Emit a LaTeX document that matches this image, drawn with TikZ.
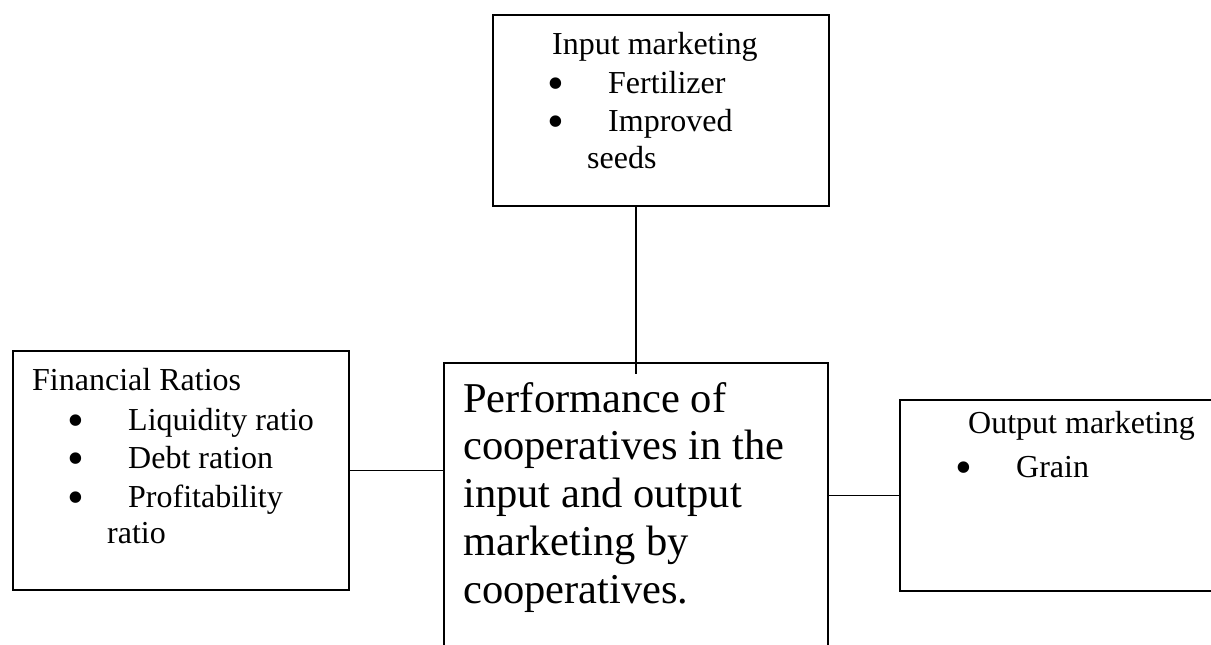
\documentclass[tikz,border=0pt]{standalone}
\usepackage{fontspec}
\setmainfont{Liberation Serif}
\newcommand{\bulletglyph}{\smash{•}}
\begin{document}
\begin{tikzpicture}[x=1pt,y=-1pt,
  box/.style={draw=black, line width=1.8pt, rectangle, inner sep=0pt, anchor=north west},
  conn/.style={draw=black, line width=1.8pt},
  small/.style={anchor=base west, inner sep=0pt, font=\fontsize{32}{38}\selectfont},
  bul/.style={anchor=base, inner sep=0pt, yshift=-6pt, font=\fontsize{48}{50}\selectfont},
  big/.style={anchor=base west, inner sep=0pt, font=\fontsize{42.5}{48}\selectfont}]
\useasboundingbox (0,0) rectangle (1211,645);
\clip (0,0) rectangle (1211,645);
\fill[white] (0,0) rectangle (1211,645);

% boxes
\node[box, minimum width=336pt, minimum height=191pt] (top) at (492,14) {};
\node[box, minimum width=384pt, minimum height=340pt] (center) at (443,362) {};
\node[box, minimum width=336pt, minimum height=239pt] (left) at (12,350) {};
\node[box, minimum width=400pt, minimum height=191pt] (right) at (899,399) {};

% connectors
\coordinate (tstart) at (636,205);
\coordinate (tend) at (636,374);
\draw[conn] (tstart) -- (tend);
\draw[conn] (left.east) -- (left.east -| center.west);
\draw[conn] (right.west) -- (right.west -| center.east);

% top box text
\node[small] (t0) at (552,54) {Input marketing};
\node[bul] (tb1) at (556,93) {\bulletglyph};
\node[small] (t1) at (608,93) {Fertilizer};
\node[bul] (tb2) at (556,131) {\bulletglyph};
\node[small] (t2) at (608,131) {Improved};
\node[small] (t3) at (587,168) {seeds};

% left box text
\node[small] (l0) at (32,390) {Financial Ratios};
\node[bul] (lb1) at (76,430) {\bulletglyph};
\node[small] (l1) at (128,430) {Liquidity ratio};
\node[bul] (lb2) at (76,468) {\bulletglyph};
\node[small] (l2) at (128,468) {Debt ration};
\node[bul] (lb3) at (76,507) {\bulletglyph};
\node[small] (l3) at (128,507) {Profitability};
\node[small] (l4) at (107,543) {ratio};

% right box text
\node[small] (r0) at (968,433) {Output marketing};
\node[bul] (rb1) at (964,477) {\bulletglyph};
\node[small] (r1) at (1016,477) {Grain};

% center text
\node[big] (c1) at (463,412) {Performance of};
\node[big] (c2) at (463,459) {cooperatives in the};
\node[big] (c3) at (463,507) {input and output};
\node[big] (c4) at (463,555) {marketing by};
\node[big] (c5) at (463,603) {cooperatives.};
\end{tikzpicture}
\end{document}
